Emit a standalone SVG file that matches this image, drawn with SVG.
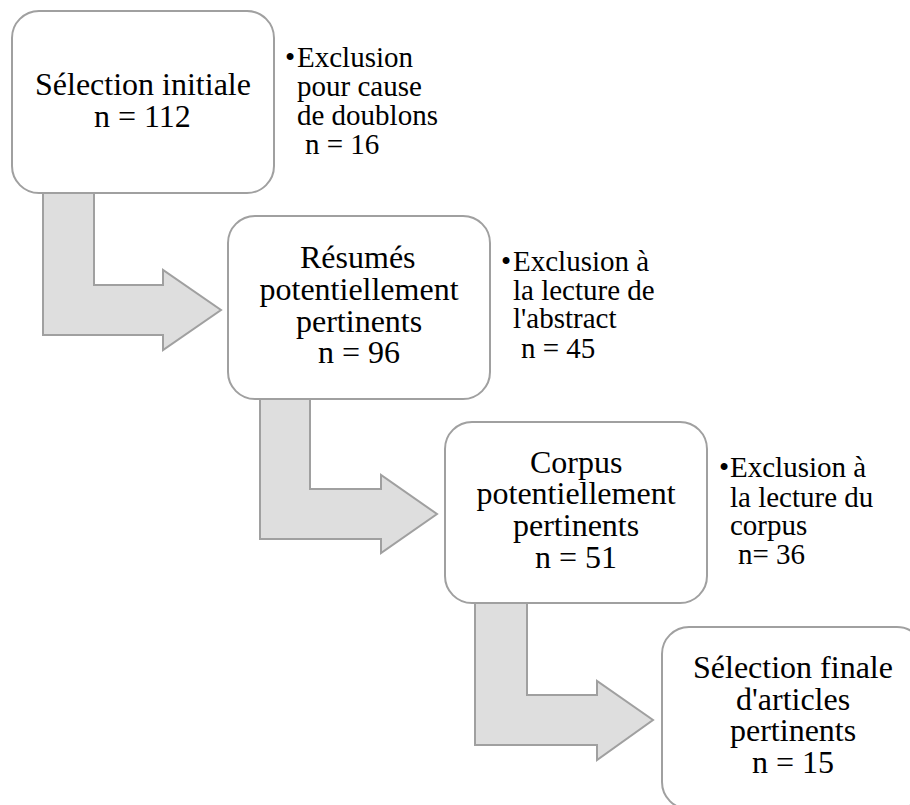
<svg xmlns="http://www.w3.org/2000/svg" width="910" height="805" viewBox="0 0 910 805">
<style>
.box{fill:#ffffff;stroke:#a0a0a0;stroke-width:2}
.arr{fill:#dedede;stroke:#a0a0a0;stroke-width:2;stroke-linejoin:miter}
.nodeLbl{font-family:'Liberation Serif','Times New Roman',serif;font-size:32px;fill:#000}
.bulletLbl{font-family:'Liberation Serif','Times New Roman',serif;font-size:29px;fill:#000}
</style>
<rect width="910" height="805" fill="#ffffff"/>
<g id="connectors">
<path class="arr" d="M43,185 L94,185 L94,285 L163,285 L163,270 L221,310 L163,350 L163,335 L43,335 Z"/>
<path class="arr" d="M260,390 L310,390 L310,489 L381,489 L381,475 L437,514 L381,553 L381,539 L260,539 Z"/>
<path class="arr" d="M475,595 L527,595 L527,695 L597,695 L597,681 L653,720 L597,760 L597,745 L475,745 Z"/>
</g>
<g id="node1">
<rect class="box" x="12" y="11" width="262" height="182" rx="27"/>
<text class="nodeLbl" x="35" y="95">Sélection initiale</text>
<text class="nodeLbl" x="94" y="127">n = 112</text>
</g>
<g id="excl1">
<text class="bulletLbl" x="285" y="67">•</text>
<text class="bulletLbl" x="297" y="67">Exclusion</text>
<text class="bulletLbl" x="297" y="96">pour cause</text>
<text class="bulletLbl" x="297" y="125">de doublons</text>
<text class="bulletLbl" x="305" y="154">n = 16</text>
</g>
<g id="node2">
<rect class="box" x="228" y="216" width="262" height="183" rx="27"/>
<text class="nodeLbl" x="300" y="268">Résumés</text>
<text class="nodeLbl" x="259.5" y="300">potentiellement</text>
<text class="nodeLbl" x="296" y="332">pertinents</text>
<text class="nodeLbl" x="318" y="363">n = 96</text>
</g>
<g id="excl2">
<text class="bulletLbl" x="501" y="271">•</text>
<text class="bulletLbl" x="513" y="271">Exclusion à</text>
<text class="bulletLbl" x="513" y="300">la lecture de</text>
<text class="bulletLbl" x="513" y="328">l'abstract</text>
<text class="bulletLbl" x="521" y="358">n = 45</text>
</g>
<g id="node3">
<rect class="box" x="445" y="422" width="262" height="181" rx="27"/>
<text class="nodeLbl" x="530" y="473">Corpus</text>
<text class="nodeLbl" x="476.5" y="504">potentiellement</text>
<text class="nodeLbl" x="513" y="536">pertinents</text>
<text class="nodeLbl" x="535" y="568">n = 51</text>
</g>
<g id="excl3">
<text class="bulletLbl" x="719" y="477">•</text>
<text class="bulletLbl" x="730" y="477">Exclusion à</text>
<text class="bulletLbl" x="730" y="507">la lecture du</text>
<text class="bulletLbl" x="730" y="535">corpus</text>
<text class="bulletLbl" x="738" y="564">n= 36</text>
</g>
<g id="node4">
<rect class="box" x="662" y="627" width="262" height="182" rx="27"/>
<text class="nodeLbl" x="693" y="678">Sélection finale</text>
<text class="nodeLbl" x="736" y="710">d'articles</text>
<text class="nodeLbl" x="730" y="741">pertinents</text>
<text class="nodeLbl" x="752" y="773">n = 15</text>
</g>
</svg>
